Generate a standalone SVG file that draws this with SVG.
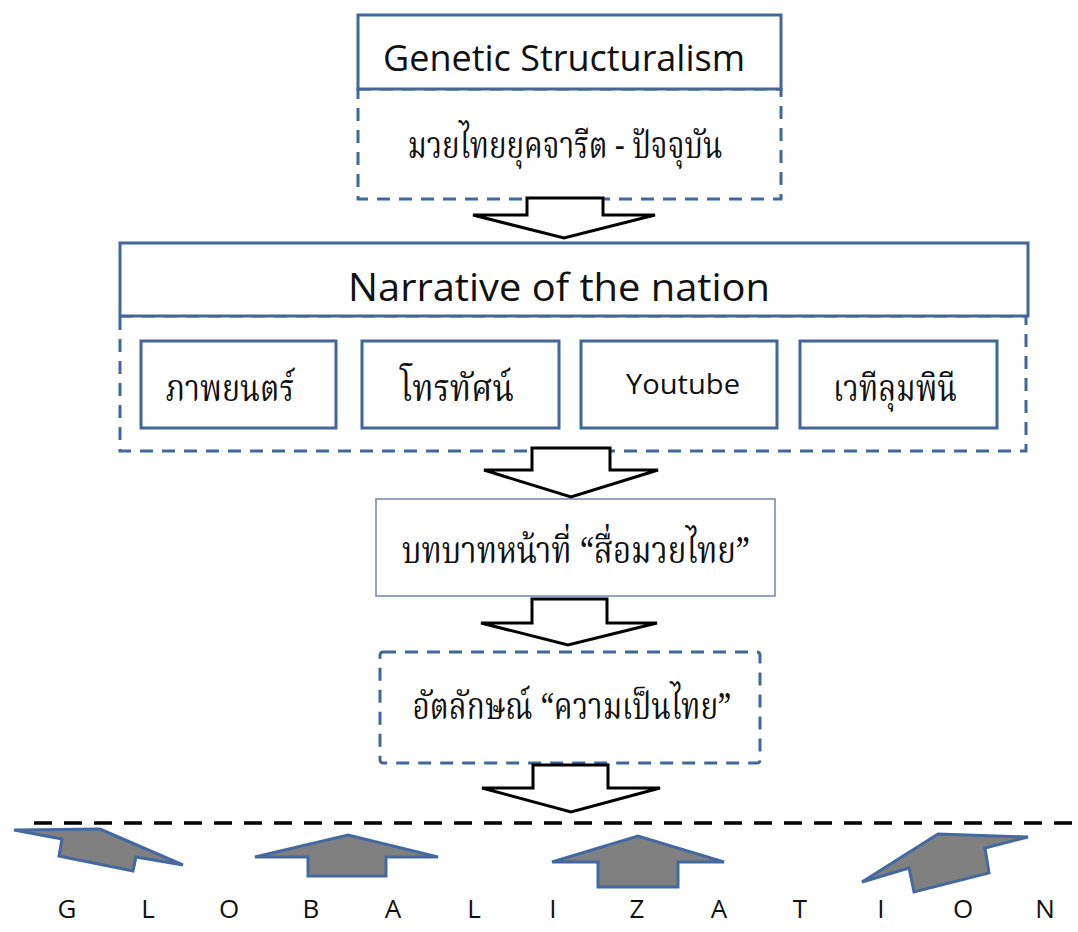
<svg xmlns="http://www.w3.org/2000/svg" width="1078" height="932" viewBox="0 0 1078 932">
<style>
.solid{fill:#fff;stroke:#41679b;stroke-width:3}
.dash{fill:none;stroke:#41679b;stroke-width:3;stroke-dasharray:13 9}
.thin{fill:#fff;stroke:#6f86b0;stroke-width:1.5}
.lat{font-family:"Open Sans","Liberation Sans",sans-serif;fill:#111}
.th{font-family:"Noto Serif Thai","Noto Sans Thai","Liberation Serif","DejaVu Sans",serif;fill:#111}
.open{fill:#fff;stroke:#000;stroke-width:3;stroke-linejoin:miter}
.gray{fill:#808080;stroke:#45699f;stroke-width:3;stroke-linejoin:miter}
</style>
<rect width="1078" height="932" fill="#fff"/>
<g id="genetic">
<rect class="dash" x="358" y="89" width="423" height="110"/>
<rect class="solid" x="358" y="15" width="423" height="74"/>
<text class="lat" x="564" y="71" font-size="36" text-anchor="middle" textLength="362" lengthAdjust="spacingAndGlyphs">Genetic Structuralism</text>
<text class="th" x="565" y="158" font-size="37" text-anchor="middle" textLength="315" lengthAdjust="spacingAndGlyphs">มวยไทยยุคจารีต - ปัจจุบัน</text>
</g>
<g id="narrative">
<rect class="dash" x="120" y="316" width="906" height="135"/>
<rect class="solid" x="120" y="243" width="908" height="73"/>
<text class="lat" x="559" y="301" font-size="38" text-anchor="middle" textLength="422" lengthAdjust="spacingAndGlyphs">Narrative of the nation</text>
</g>
<g id="film">
<rect class="solid" x="141" y="341" width="195" height="87"/>
<text class="th" x="230" y="401" font-size="37" text-anchor="middle" textLength="129" lengthAdjust="spacingAndGlyphs">ภาพยนตร์</text>
</g>
<g id="tv">
<rect class="solid" x="362" y="341" width="197" height="87"/>
<text class="th" x="457" y="401" font-size="37" text-anchor="middle" textLength="114" lengthAdjust="spacingAndGlyphs">โทรทัศน์</text>
</g>
<g id="youtube">
<rect class="solid" x="581" y="341" width="196" height="87"/>
<text class="lat" x="683" y="394" font-size="27" text-anchor="middle" textLength="114" lengthAdjust="spacingAndGlyphs">Youtube</text>
</g>
<g id="lumpini">
<rect class="solid" x="800" y="341" width="197" height="87"/>
<text class="th" x="895" y="401" font-size="37" text-anchor="middle" textLength="124" lengthAdjust="spacingAndGlyphs">เวทีลุมพินี</text>
</g>
<g id="role">
<rect class="thin" x="376" y="499" width="399" height="97"/>
<text class="th" x="576" y="563" font-size="37" text-anchor="middle" textLength="348" lengthAdjust="spacingAndGlyphs">บทบาทหน้าที่ “สื่อมวยไทย”</text>
</g>
<g id="identity">
<rect class="dash" x="380" y="652" width="380" height="111" rx="3"/>
<text class="th" x="572" y="719" font-size="37" text-anchor="middle" textLength="319" lengthAdjust="spacingAndGlyphs">อัตลักษณ์ “ความเป็นไทย”</text>
</g>
<g id="connectors">
<polygon class="open" points="527,198 603,198 603,215 655,215 564,238 473,215 527,215"/>
<polygon class="open" points="532,448 610,448 610,470 658,470 571,497 484,470 532,470"/>
<polygon class="open" points="532,599 607,599 607,623 657,623 568,645 481,623 532,623"/>
<polygon class="open" points="533,765 608,765 608,788 660,788 571,812 482,788 533,788"/>
</g>
<g id="globalization">
<line x1="34" y1="823" x2="1078" y2="823" stroke="#000" stroke-width="3.5" stroke-dasharray="18 12"/>
<polygon class="gray" points="14,830 100,829 183,865 136,857 133,871 59,856 62,839"/>
<polygon class="gray" points="255,857 348,835 438,857 386,857 386,876 308,876 308,857"/>
<polygon class="gray" points="552,862 638,836 724,862 678,862 678,887 598,887 598,862"/>
<polygon class="gray" points="862,882 938,834 1028,837 985,848 989,873 914,892 909,868"/>
<text class="lat" y="918" font-size="26" text-anchor="middle"><tspan x="67">G</tspan><tspan x="148">L</tspan><tspan x="229">O</tspan><tspan x="311">B</tspan><tspan x="393">A</tspan><tspan x="474">L</tspan><tspan x="553">I</tspan><tspan x="637">Z</tspan><tspan x="719">A</tspan><tspan x="800">T</tspan><tspan x="881">I</tspan><tspan x="963">O</tspan><tspan x="1045">N</tspan></text>
</g>
</svg>
